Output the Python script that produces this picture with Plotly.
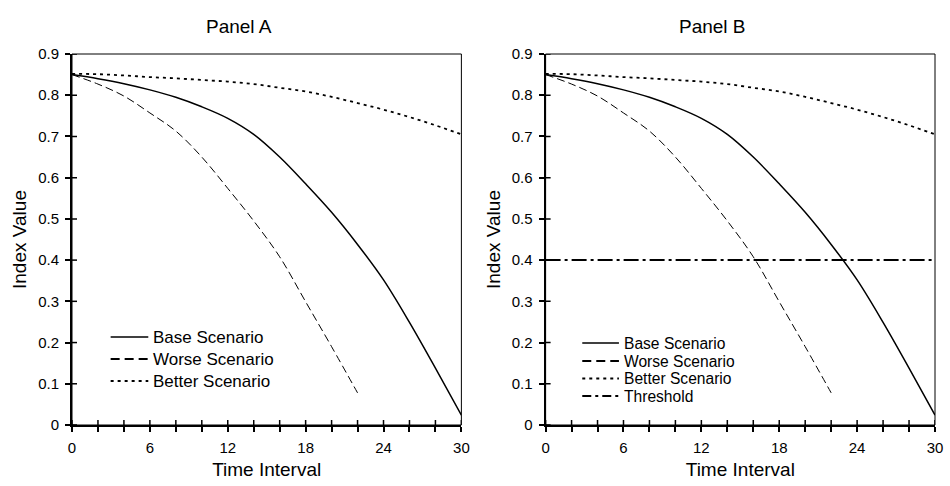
import plotly.graph_objects as go

# ---- data ----
time_base = [0, 2, 4, 6, 8, 10, 12, 14, 16, 18, 20, 22, 24, 26, 28, 30]
base_values = [0.850, 0.840, 0.828, 0.813, 0.795, 0.772, 0.744, 0.705,
               0.650, 0.585, 0.516, 0.438, 0.352, 0.249, 0.138, 0.024]
time_worse = [0, 2, 4, 6, 8, 10, 12, 14, 16, 18, 20, 22]
worse_values = [0.850, 0.827, 0.798, 0.757, 0.713, 0.650, 0.574, 0.495,
                0.408, 0.299, 0.190, 0.078]
time_better = [0, 2, 4, 6, 8, 10, 12, 14, 16, 18, 20, 22, 24, 26, 28, 30]
better_values = [0.852, 0.851, 0.848, 0.844, 0.841, 0.837, 0.833, 0.827,
                 0.818, 0.809, 0.796, 0.781, 0.765, 0.747, 0.727, 0.705]
threshold_x = [0, 30]
threshold_values = [0.4, 0.4]

x_tick_vals = list(range(0, 31, 2))
x_tick_text = [str(v) if v % 6 == 0 else "" for v in x_tick_vals]
y_tick_vals = [0, 0.1, 0.2, 0.3, 0.4, 0.5, 0.6, 0.7, 0.8, 0.9]
y_tick_text = ["0", "0.1", "0.2", "0.3", "0.4", "0.5", "0.6", "0.7", "0.8", "0.9"]

panel_titles = ["Panel A", "Panel B"]
x_title = "Time Interval"
y_title = "Index Value"
legend_a = ["Base Scenario", "Worse Scenario", "Better Scenario"]
legend_b = ["Base Scenario", "Worse Scenario", "Better Scenario", "Threshold"]

FONT = "Liberation Sans, Arial, sans-serif"
W, H = 950, 486
ML, MR, MT, MB = 72, 7, 54, 61
PW = W - ML - MR
PH = H - MT - MB


def px_x(p):
    return (p - ML) / PW


def px_y(p):
    return (H - MB - p) / PH


dom_a = [0, px_x(465)]
dom_b = [px_x(550), 1]

styles = {
    "Base Scenario": dict(color="black", width=1.5, dash="solid"),
    "Worse Scenario": dict(color="black", width=1, dash="8px,4px"),
    "Better Scenario": dict(color="black", width=1.8, dash="3px,4px"),
    "Threshold": dict(color="black", width=2, dash="15px,4px,3px,4px"),
}
legend_styles = {
    "Base Scenario": dict(color="black", width=1.5, dash="solid"),
    "Worse Scenario": dict(color="black", width=2, dash="9px,5px"),
    "Better Scenario": dict(color="black", width=2, dash="3px,4px"),
    "Threshold": dict(color="black", width=2, dash="9px,4px,3px,4px"),
}

fig = go.Figure()

for xa, ya in [("x", "y"), ("x2", "y2")]:
    fig.add_trace(go.Scatter(x=time_base, y=base_values, mode="lines",
                             name="Base Scenario",
                             line=dict(shape="spline", smoothing=1.0, **styles["Base Scenario"]),
                             xaxis=xa, yaxis=ya))
    fig.add_trace(go.Scatter(x=time_worse, y=worse_values, mode="lines",
                             name="Worse Scenario",
                             line=dict(shape="spline", smoothing=1.0, **styles["Worse Scenario"]),
                             xaxis=xa, yaxis=ya))
    fig.add_trace(go.Scatter(x=time_better, y=better_values, mode="lines",
                             name="Better Scenario",
                             line=dict(shape="spline", smoothing=1.0, **styles["Better Scenario"]),
                             xaxis=xa, yaxis=ya))

fig.add_trace(go.Scatter(x=threshold_x, y=threshold_values, mode="lines",
                         name="Threshold", line=styles["Threshold"],
                         xaxis="x2", yaxis="y2"))

axis_common = dict(showgrid=False, zeroline=False, showline=True,
                   linecolor="black", linewidth=2, ticks="outside",
                   ticklen=5, tickwidth=1.5, tickcolor="black",
                   tickfont=dict(family=FONT, size=15, color="black"))

layout = dict(
    width=W, height=H,
    margin=dict(l=ML, r=MR, t=MT, b=MB),
    paper_bgcolor="white", plot_bgcolor="white",
    font=dict(family=FONT, color="black"),
    showlegend=False,
)

for i, (xn, yn, dom) in enumerate([("xaxis", "yaxis", dom_a), ("xaxis2", "yaxis2", dom_b)]):
    xid = "x" if i == 0 else "x2"
    yid = "y" if i == 0 else "y2"
    layout[xn] = dict(axis_common, domain=dom, range=[0, 30], anchor=yid,
                      tickmode="array", tickvals=x_tick_vals, ticktext=x_tick_text,
                      ticklabelstandoff=3,
                      title=dict(text=x_title, font=dict(family=FONT, size=19), standoff=8))
    layout[yn] = dict(axis_common, domain=[0, 1], range=[0, 0.9], anchor=xid,
                      tickmode="array", tickvals=y_tick_vals, ticktext=y_tick_text,
                      ticklabelstandoff=3,
                      title=dict(text=y_title, font=dict(family=FONT, size=19), standoff=6))

annotations = [
    dict(text=panel_titles[0], x=px_x(241), y=px_y(27), xref="paper", yref="paper",
         showarrow=False, xanchor="center", yanchor="middle",
         font=dict(family=FONT, size=19, color="black")),
    dict(text=panel_titles[1], x=px_x(718), y=px_y(27), xref="paper", yref="paper",
         showarrow=False, xanchor="center", yanchor="middle",
         font=dict(family=FONT, size=19, color="black")),
]

shapes = [
    dict(type="rect", xref="x domain", yref="y domain", x0=0, x1=1, y0=0, y1=1,
         line=dict(color="black", width=1), layer="below"),
    dict(type="rect", xref="x2 domain", yref="y2 domain", x0=0, x1=1, y0=0, y1=1,
         line=dict(color="black", width=1), layer="below"),
]

# inner half of the crossing tick marks (outer half comes from the axes)
tick_line = dict(color="black", width=1.5)
for xr, yr in [("x", "y"), ("x2", "y2")]:
    for v in x_tick_vals:
        shapes.append(dict(type="line", xref=xr, yref=yr, x0=v, x1=v,
                           ysizemode="pixel", yanchor=0, y0=0, y1=5,
                           line=tick_line, layer="above"))
    for v in y_tick_vals:
        shapes.append(dict(type="line", xref=xr, yref=yr, y0=v, y1=v,
                           xsizemode="pixel", xanchor=0, x0=0, x1=5,
                           line=tick_line, layer="above"))

# legend boxes (sample line + label) in the lower-left of each panel
legend_specs = [
    (legend_a, 111, 149, 155, [337, 359, 381], 17),
    (legend_b, 587, 624, 630, [343, 361, 378.5, 396], 15.6),
]
for names, lx0, lx1, tx, rows, fsize in legend_specs:
    for name, ry in zip(names, rows):
        shapes.append(dict(type="line", xref="paper", yref="paper",
                           x0=px_x(lx0), x1=px_x(lx1), y0=px_y(ry), y1=px_y(ry),
                           line=legend_styles[name]))
        annotations.append(dict(text=name, x=px_x(tx), y=px_y(ry), xref="paper", yref="paper",
                                showarrow=False, xanchor="left", yanchor="middle",
                                xshift=-2, borderpad=0,
                                font=dict(family=FONT, size=fsize, color="black")))

layout["annotations"] = annotations
layout["shapes"] = shapes

fig.update_layout(**layout)
fig.write_html("out.html")
